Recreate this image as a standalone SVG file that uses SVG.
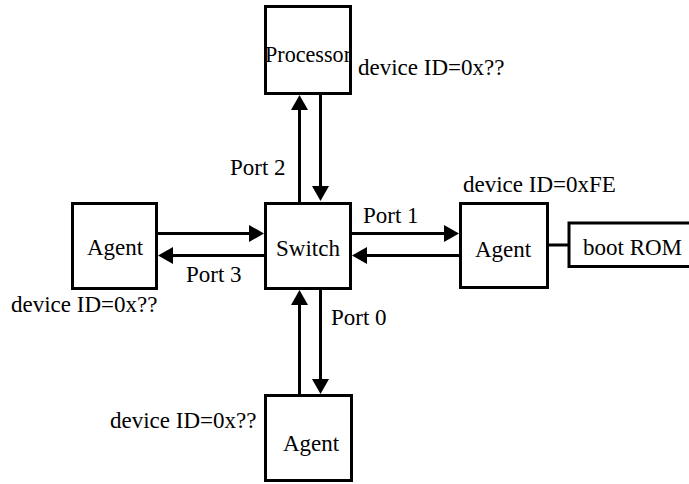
<svg xmlns="http://www.w3.org/2000/svg" width="689" height="484" viewBox="0 0 689 484">
<style>
.box{fill:#fff;stroke:#000;stroke-width:3}
.ln{fill:none;stroke:#000;stroke-width:3}
.arr{marker-end:url(#ah)}
.t{font-family:'Liberation Serif','Times New Roman','DejaVu Serif',serif;font-size:23px;fill:#000}
</style>
<defs>
<marker id="ah" markerUnits="userSpaceOnUse" markerWidth="16" markerHeight="17" refX="5" refY="8.5" orient="auto" viewBox="0 0 16 17">
<path d="M0,0 L15,8.5 L0,17 z" fill="#000"/>
</marker>
</defs>
<rect width="689" height="484" fill="#fff"/>
<g id="connectors">
<line class="ln arr" x1="299.5" y1="202" x2="299.5" y2="105"/>
<line class="ln arr" x1="320.5" y1="95" x2="320.5" y2="191"/>
<line class="ln arr" x1="158" y1="233.5" x2="254" y2="233.5"/>
<line class="ln arr" x1="264" y1="255.5" x2="168" y2="255.5"/>
<line class="ln arr" x1="352" y1="233.5" x2="449" y2="233.5"/>
<line class="ln arr" x1="459" y1="255.5" x2="362" y2="255.5"/>
<line class="ln arr" x1="299.5" y1="394" x2="299.5" y2="300"/>
<line class="ln arr" x1="320.5" y1="290" x2="320.5" y2="384"/>
<line class="ln" x1="549" y1="245" x2="568" y2="245"/>
</g>
<g id="processor">
<rect class="box" x="265.5" y="6.5" width="85" height="87"/>
<text class="t" x="265" y="62" textLength="86" lengthAdjust="spacingAndGlyphs">Processor</text>
</g>
<g id="switch">
<rect class="box" x="265.5" y="203.5" width="85" height="85"/>
<text class="t" x="276" y="256">Switch</text>
</g>
<g id="agent-left">
<rect class="box" x="72.5" y="203.5" width="84" height="85"/>
<text class="t" x="87" y="255">Agent</text>
</g>
<g id="agent-right">
<rect class="box" x="460.5" y="203.5" width="87" height="84"/>
<text class="t" x="475" y="257">Agent</text>
</g>
<g id="agent-bottom">
<rect class="box" x="265.5" y="395.5" width="86" height="85"/>
<text class="t" x="283" y="451">Agent</text>
</g>
<g id="boot-rom">
<rect class="box" x="569" y="223" width="130" height="43.5"/>
<text class="t" x="583" y="255">boot ROM</text>
</g>
<g id="labels">
<text class="t" x="358" y="75">device ID=0x??</text>
<text class="t" x="463" y="192">device ID=0xFE</text>
<text class="t" x="11" y="312">device ID=0x??</text>
<text class="t" x="110" y="428">device ID=0x??</text>
<text class="t" x="230" y="175">Port 2</text>
<text class="t" x="363" y="223">Port 1</text>
<text class="t" x="186" y="282">Port 3</text>
<text class="t" x="331" y="325">Port 0</text>
</g>
</svg>
